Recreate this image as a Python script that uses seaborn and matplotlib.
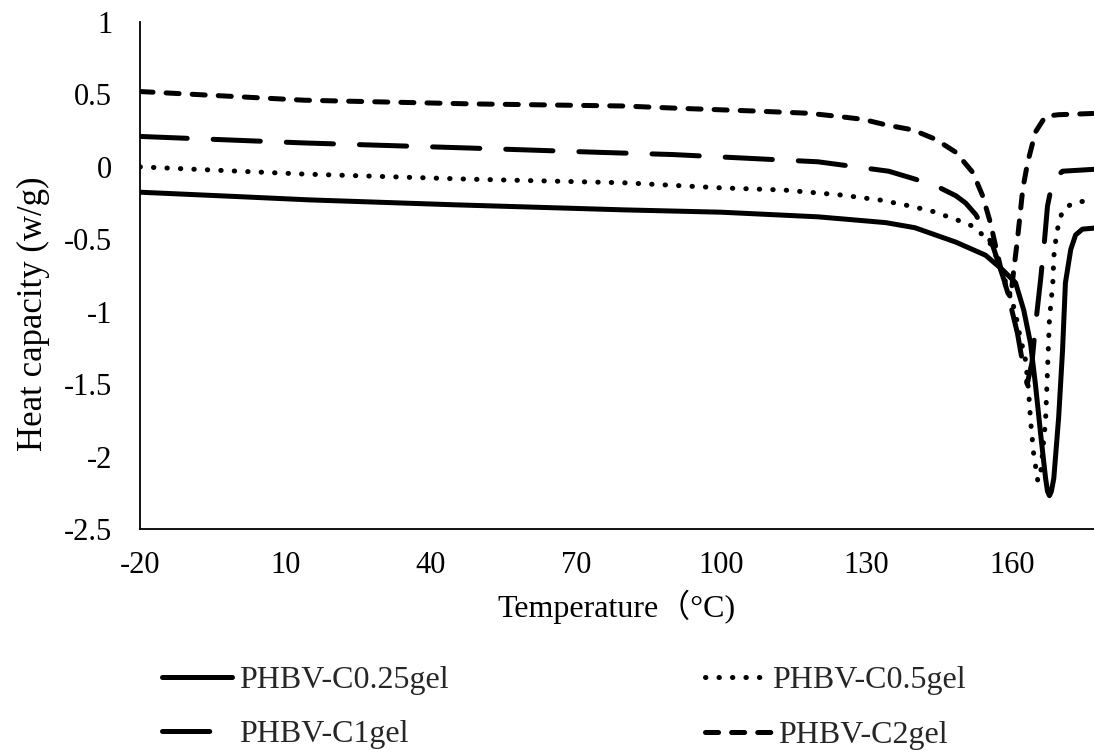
import numpy as np
import pandas as pd
import matplotlib
matplotlib.use("Agg")
import matplotlib.pyplot as plt
import seaborn as sns

# ---------------- data ----------------
T_025 = [-20, 0, 15, 45, 80, 100, 120, 126, 134, 140, 148.5, 154.6, 158.1, 160.8, 162.5,
         163.9, 164.9, 166.0, 167.0, 167.4, 167.8, 168.2, 168.7, 169.7, 170.5, 171.1,
         172.2, 173.2, 174.6, 178]
cp_025 = [-0.175, -0.205, -0.228, -0.262, -0.297, -0.313, -0.345, -0.362, -0.385, -0.42,
          -0.52, -0.61, -0.71, -0.80, -0.99, -1.22, -1.50, -1.85, -2.15, -2.24, -2.27,
          -2.24, -2.15, -1.73, -1.27, -0.80, -0.57, -0.47, -0.43, -0.42]

T_05 = [-20, 14, 48, 80, 100, 113, 125, 133, 139, 144, 149, 152, 154, 156.1, 157.1,
        159.4, 160.8, 161.4, 162.9, 163.5, 163.9, 164.5, 165.4, 166.0, 167.0, 167.4,
        167.8, 168.5, 168.7, 169.3, 170.5, 172.6, 175.3, 178]
cp_05 = [0.0, -0.05, -0.085, -0.11, -0.145, -0.16, -0.195, -0.23, -0.27, -0.31, -0.37,
         -0.41, -0.47, -0.55, -0.65, -0.85, -1.01, -1.12, -1.34, -1.55, -1.75, -1.97,
         -2.17, -2.11, -1.75, -1.40, -1.05, -0.80, -0.62, -0.45, -0.30, -0.25, -0.235, -0.23]

T_1 = [-20, 14, 48, 75, 90, 105, 120, 134.6, 139.6, 144.3, 148.5, 150.5, 152.6, 156.1,
       158.8, 161.2, 162.3, 163.2, 164.2, 164.9, 166.0, 166.8, 167.4, 168.5, 170.5, 178]
cp_1 = [0.21, 0.165, 0.13, 0.10, 0.085, 0.06, 0.035, -0.03, -0.08, -0.13, -0.20,
        -0.25, -0.33, -0.545, -0.82, -1.15, -1.36, -1.50, -1.35, -1.10, -0.77, -0.50,
        -0.27, -0.09, -0.03, -0.015]

T_2 = [-20, 14, 48, 80, 90.7, 107.2, 118.1, 123.7, 129.3, 134, 139.6, 144.3, 148.5, 152,
       154, 155.6, 156.7, 158.1, 159.2, 159.8, 160.4, 161.2, 162.3, 163.3, 164.9, 167.0,
       169.7, 178]
cp_2 = [0.52, 0.46, 0.435, 0.42, 0.405, 0.385, 0.37, 0.35, 0.328, 0.29, 0.255, 0.19, 0.10,
        -0.04, -0.20, -0.385, -0.55, -0.75, -0.87, -0.90, -0.72, -0.50, -0.15, 0.03, 0.24,
        0.35, 0.36, 0.37]

labels = ["PHBV-C0.25gel", "PHBV-C0.5gel", "PHBV-C1gel", "PHBV-C2gel"]
x_ticks = [-20, 10, 40, 70, 100, 130, 160]
y_ticks = [-2.5, -2, -1.5, -1, -0.5, 0, 0.5, 1]
y_tick_labels = ["-2.5", "-2", "-1.5", "-1", "-0.5", "0", "0.5", "1"]

# ---------------- build long-form table ----------------
frames = []
for lab, tt, cc in zip(labels, [T_025, T_05, T_1, T_2], [cp_025, cp_05, cp_1, cp_2]):
    frames.append(pd.DataFrame({"T": tt, "Cp": cc, "sample": lab}))
df = pd.concat(frames, ignore_index=True)

sns.set_theme(style="white")
plt.rcParams["font.family"] = ["Liberation Serif", "Noto Sans CJK SC", "DejaVu Sans"]
plt.rcParams["axes.unicode_minus"] = False
plt.rcParams["lines.scale_dashes"] = False

W, H = 1094, 752
fig = plt.figure(figsize=(W / 100, H / 100), dpi=100)
ax_l, ax_r, ax_t, ax_b = 140, 1094, 22, 529
ax = fig.add_axes([ax_l / W, 1 - ax_b / H, (ax_r - ax_l) / W, (ax_b - ax_t) / H])

dash_map = {
    "PHBV-C0.25gel": "",
    "PHBV-C0.5gel": (0.3, 9.4),
    "PHBV-C1gel": (34, 18.7),
    "PHBV-C2gel": (9.4, 9.4),
}
sns.lineplot(data=df, x="T", y="Cp", hue="sample", style="sample",
             hue_order=labels, style_order=labels,
             palette=["black"] * 4, dashes=dash_map, sort=False,
             estimator=None, lw=3.6, ax=ax, legend=False)

lines = ax.get_lines()[:4]
for ln in lines:
    ln.set_dash_capstyle("round")
    ln.set_solid_capstyle("round")
    ln.set_solid_joinstyle("round")
    ln.set_dash_joinstyle("round")

ax.set_xlim(-20, 177)
ax.set_ylim(-2.5, 1)
ax.set_xticks(x_ticks)
ax.set_xticklabels([str(t) for t in x_ticks])
ax.set_yticks(y_ticks)
ax.set_yticklabels(y_tick_labels)

for side in ["top", "right"]:
    ax.spines[side].set_visible(False)
for side in ["left", "bottom"]:
    ax.spines[side].set_color("black")
    ax.spines[side].set_linewidth(1.3)
ax.tick_params(axis="both", direction="out", length=6, width=1.3, color="black",
               labelsize=22, labelcolor="black")
ax.tick_params(axis="y", pad=14)
ax.tick_params(axis="x", pad=10)
ax.grid(False)

ax.set_xlabel("Temperature（°C)", fontsize=23, color="black")
ax.set_ylabel("Heat capacity (w/g)", fontsize=25, color="black")
ax.xaxis.set_label_coords(0.5, -(590 - ax_b) / (ax_b - ax_t))
ax.yaxis.set_label_coords(-(ax_l - 50) / (ax_r - ax_l), 0.425)

# legend: left column as one block, right-column entries placed like the reference
leg_kw = dict(frameon=False, loc="upper left", fontsize=23, borderpad=0,
              borderaxespad=0, labelspacing=0.76)
row1_top, row_pitch = 666, 55
fig.legend([lines[0], lines[2]], [labels[0], labels[2]],
           bbox_to_anchor=(162 / W, 1 - row1_top / H),
           handlelength=2.2, handletextpad=0.2, **leg_kw)
fig.legend([lines[1]], [labels[1]],
           bbox_to_anchor=(705 / W, 1 - row1_top / H),
           handlelength=1.75, handletextpad=0.35, **leg_kw)
fig.legend([lines[3]], [labels[3]],
           bbox_to_anchor=(705 / W, 1 - (row1_top + row_pitch) / H),
           handlelength=2.2, handletextpad=0.1, **leg_kw)

fig.savefig("out.png", dpi=100)
